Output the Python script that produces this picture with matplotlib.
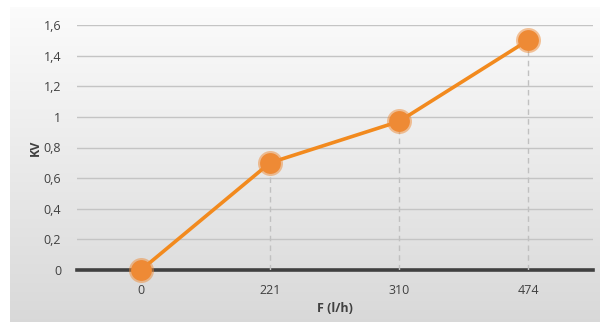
import matplotlib
matplotlib.use("Agg")
import matplotlib.pyplot as plt
import numpy as np
from matplotlib.ticker import FuncFormatter

# data
flow_labels = ["0", "221", "310", "474"]
kv_values = [0.0, 0.70, 0.97, 1.50]
y_ticks = [0, 0.2, 0.4, 0.6, 0.8, 1.0, 1.2, 1.4, 1.6]

plt.rcParams.update({
    "font.family": ["Open Sans", "DejaVu Sans"],
    "font.size": 9,
})

fig = plt.figure(figsize=(6.09, 3.22), dpi=100, facecolor="white")

# gradient panel behind the chart
bg = fig.add_axes([10 / 609, 0, 590 / 609, 315 / 322], zorder=0)
grad = np.linspace(0, 1, 256).reshape(-1, 1)
top = np.array([0.985, 0.985, 0.985])
bottom = np.array([0.85, 0.85, 0.85])
img = top + (bottom - top) * grad[:, :, None]
bg.imshow(img, aspect="auto", extent=[0, 1, 0, 1], origin="upper")
bg.set_axis_off()

ax = fig.add_axes([76.5 / 609, (322 - 270) / 322, 516 / 609, 245 / 322], zorder=1)
ax.patch.set_alpha(0)

x = np.arange(len(flow_labels))
ax.set_xlim(-0.5, len(flow_labels) - 0.5)
ax.set_ylim(0, 1.6)
ax.set_yticks(y_ticks)
ax.yaxis.set_major_formatter(FuncFormatter(lambda v, p: f"{v:g}".replace(".", ",")))
ax.set_xticks(x)
ax.set_xticklabels(flow_labels)
ax.tick_params(length=0, colors="#404040", labelsize=9)
ax.tick_params(axis="x", pad=10)
ax.tick_params(axis="y", pad=11)
for s in ax.spines.values():
    s.set_visible(False)
ax.grid(axis="y", color="#c4c4c4", linewidth=1.0)
ax.set_axisbelow(True)
ax.axhline(0, color="#404040", linewidth=2.6, zorder=2, clip_on=False)

# dashed drop lines
ax.vlines(x[1:], 0, kv_values[1:], colors="#c0c0c0", linestyles=(0, (4, 3)),
          linewidth=1.0, zorder=2)

ax.plot(x, kv_values, color="#F28A1E", linewidth=2.6, zorder=3,
        solid_capstyle="round")
# soft marker glow
ax.plot(x, kv_values, linestyle="none", marker="o", markersize=18,
        color="#EE8A35", alpha=0.5, markeredgewidth=0, zorder=4, clip_on=False)
ax.plot(x, kv_values, linestyle="none", marker="o", markersize=15,
        color="#EE8A35", markeredgewidth=0, zorder=5, clip_on=False)

ax.set_xlabel("F (l/h)", fontweight="bold", color="#404040", fontsize=9, labelpad=4)
ax.set_ylabel("KV", fontweight="bold", color="#404040", fontsize=9, labelpad=1)

fig.savefig("out.png", dpi=100, facecolor="white")
